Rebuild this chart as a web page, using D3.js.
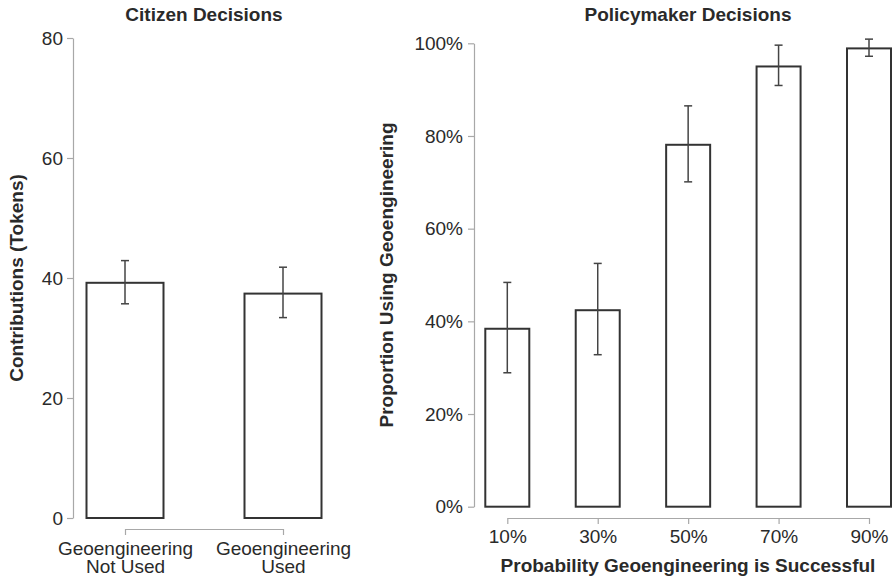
<!DOCTYPE html>
<html>
<head>
<meta charset="utf-8">
<script src="https://cdn.jsdelivr.net/npm/d3@7"></script>
<style>
  html, body { margin: 0; padding: 0; background: #fff; }
  svg { display: block; font-family: "Liberation Sans", Arial, Helvetica, sans-serif; }
  .axis path, .axis line { stroke: #a8a8a8; stroke-width: 1.2; }
  .axis text { fill: #2a2a2a; font-size: 19px; }
</style>
</head>
<body>
<svg id="chart" width="894" height="578"></svg>
<script>
// Citizen decisions: mean contributions with confidence intervals
const citizenCategories = ["Geoengineering Not Used", "Geoengineering Used"];
const citizenLabelLines = [["Geoengineering", "Not Used"], ["Geoengineering", "Used"]];
const citizenMeans = [39.2, 37.4];
const citizenLower = [35.7, 33.4];
const citizenUpper = [42.9, 41.8];
const citizenTicks = [0, 20, 40, 60, 80];

// Policymaker decisions: proportion choosing geoengineering by success probability
const probabilityLabels = ["10%", "30%", "50%", "70%", "90%"];
const policyProportions = [0.384, 0.424, 0.781, 0.950, 0.989];
const policyLower = [0.289, 0.328, 0.701, 0.909, 0.972];
const policyUpper = [0.484, 0.525, 0.865, 0.996, 1.009];
const policyTicks = [0, 0.2, 0.4, 0.6, 0.8, 1.0];

const svg = d3.select("#chart");
const barStroke = "#333";
const errStroke = "#444";
const textColor = "#2a2a2a";
const titleSize = 19;

function drawPanel(opts) {
  const g = svg.append("g");
  const { x, y, values, lower, upper, barWidth, ticks, tickFormat, yAxisX, xAxisY } = opts;

  // y axis
  g.append("g")
    .attr("class", "axis")
    .attr("transform", `translate(${yAxisX},0)`)
    .call(d3.axisLeft(y).tickValues(ticks).tickFormat(tickFormat)
      .tickSize(6).tickSizeOuter(0).tickPadding(opts.yPad));

  // x axis (bracket spanning the bar centres)
  const xa = g.append("g")
    .attr("class", "axis")
    .attr("transform", `translate(0,${xAxisY})`)
    .call(d3.axisBottom(x).tickSize(6).tickSizeOuter(0).tickPadding(6));
  opts.decorateX(xa);

  const cats = x.domain();
  // bars
  g.selectAll("rect.bar").data(cats).join("rect")
    .attr("class", "bar")
    .attr("x", (d) => x(d) - barWidth / 2)
    .attr("width", barWidth)
    .attr("y", (d, i) => y(values[i]))
    .attr("height", (d, i) => y(0) - y(values[i]))
    .attr("fill", "#fff")
    .attr("stroke", barStroke)
    .attr("stroke-width", 2);

  // error bars
  const cap = 4;
  const eb = g.selectAll("g.err").data(cats).join("g").attr("class", "err")
    .attr("stroke", errStroke).attr("stroke-width", 1.5);
  eb.append("line")
    .attr("x1", (d) => x(d)).attr("x2", (d) => x(d))
    .attr("y1", (d, i) => y(lower[i])).attr("y2", (d, i) => y(upper[i]));
  eb.append("line")
    .attr("x1", (d) => x(d) - cap).attr("x2", (d) => x(d) + cap)
    .attr("y1", (d, i) => y(upper[i])).attr("y2", (d, i) => y(upper[i]));
  eb.append("line")
    .attr("x1", (d) => x(d) - cap).attr("x2", (d) => x(d) + cap)
    .attr("y1", (d, i) => y(lower[i])).attr("y2", (d, i) => y(lower[i]));

  // title
  g.append("text")
    .attr("x", opts.titleX).attr("y", 21)
    .attr("text-anchor", "middle")
    .attr("font-weight", "bold").attr("font-size", titleSize)
    .attr("fill", textColor)
    .text(opts.title);

  // y-axis title
  g.append("text")
    .attr("transform", `translate(${opts.yTitleX},${(y.range()[0] + y.range()[1]) / 2}) rotate(-90)`)
    .attr("text-anchor", "middle")
    .attr("dy", "0.35em")
    .attr("font-weight", "bold").attr("font-size", titleSize)
    .attr("fill", textColor)
    .text(opts.yTitle);
  return g;
}

// Left panel
const yCitizen = d3.scaleLinear().domain([0, 80]).range([518, 38]);
const xCitizen = d3.scalePoint().domain(citizenCategories).range([125, 283]);
drawPanel({
  x: xCitizen, y: yCitizen,
  values: citizenMeans, lower: citizenLower, upper: citizenUpper,
  barWidth: 77, ticks: citizenTicks, tickFormat: d3.format("d"),
  yAxisX: 73, xAxisY: 529, yPad: 4,
  title: "Citizen Decisions", titleX: 204,
  yTitle: "Contributions (Tokens)", yTitleX: 16,
  decorateX: (xa) => {
    // two-line category labels, one text element per line
    xa.selectAll(".tick").each(function (d, i) {
      const tick = d3.select(this);
      tick.select("text").remove();
      citizenLabelLines[i].forEach((line, k) => {
        tick.append("text")
          .attr("x", 0).attr("y", 26 + k * 18)
          .attr("text-anchor", "middle")
          .attr("fill", textColor)
          .attr("font-size", k === 0 ? 19 : 19)
          .text(line);
      });
    });
  }
});

// Right panel
const yPolicy = d3.scaleLinear().domain([0, 1]).range([506.7, 43.3]);
const xPolicy = d3.scalePoint().domain(probabilityLabels).range([507.3, 869]);
drawPanel({
  x: xPolicy, y: yPolicy,
  values: policyProportions, lower: policyLower, upper: policyUpper,
  barWidth: 44, ticks: policyTicks, tickFormat: d3.format(".0%"),
  yAxisX: 474, xAxisY: 518, yPad: 5,
  title: "Policymaker Decisions", titleX: 688,
  yTitle: "Proportion Using Geoengineering", yTitleX: 386,
  decorateX: (xa) => {}
});

// x-axis title for the right panel
svg.append("text")
  .attr("x", 688).attr("y", 572)
  .attr("text-anchor", "middle")
  .attr("font-weight", "bold").attr("font-size", titleSize)
  .attr("fill", textColor)
  .text("Probability Geoengineering is Successful");
</script>
</body>
</html>
